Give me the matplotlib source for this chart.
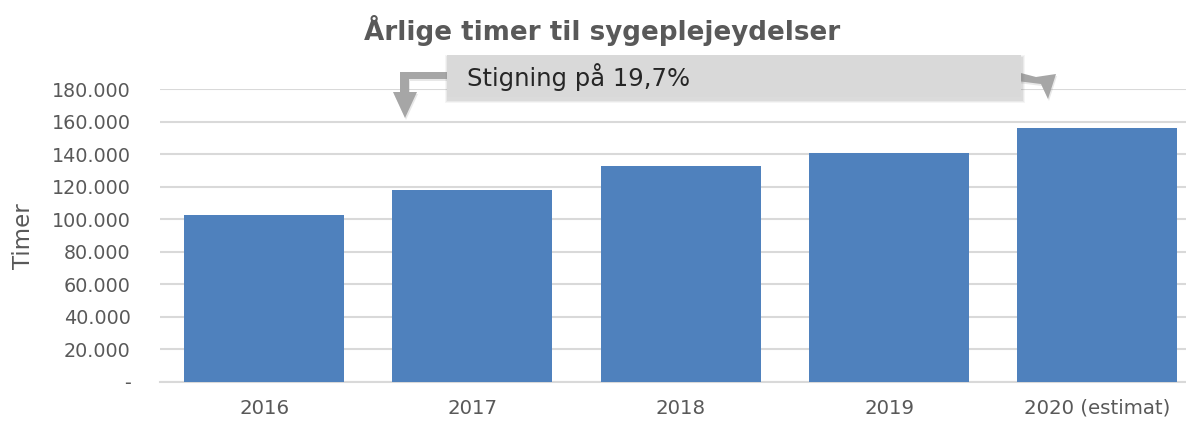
import matplotlib.pyplot as plt
from matplotlib.patches import Rectangle, Polygon
from matplotlib.ticker import FuncFormatter

# data
years = ["2016", "2017", "2018", "2019", "2020 (estimat)"]
hours = [103000, 117800, 132800, 141000, 156500]
yticks = [0, 20000, 40000, 60000, 80000, 100000, 120000, 140000, 160000, 180000]
note_text = "Stigning på 19,7%"

grey_txt = "#595959"
grid_col = "#D9D9D9"
bar_col = "#4F81BD"

plt.rcParams['font.family'] = ['DejaVu Sans']

W, H = 1186, 426
fig = plt.figure(figsize=(W / 100, H / 100), dpi=100)


def px(x, y):
    # pixel (from top-left) -> figure fraction
    return (x / W, (H - y) / H)


# axes placed in pixel terms
ax_left, ax_right, ax_bot, ax_top = 160, 1186, 382, 89.3
ax = fig.add_axes([ax_left / W, (H - ax_bot) / H, (ax_right - ax_left) / W, (ax_bot - ax_top) / H])

xpos = range(len(years))
ax.bar(xpos, hours, width=0.768, color=bar_col, zorder=3)

ax.set_ylim(0, 180000)
ax.set_xlim(-0.5, (ax_right - ax_left) / 208.3 - 0.5)
ax.set_yticks(yticks)
ax.yaxis.set_major_formatter(FuncFormatter(lambda v, p: "-" if v == 0 else f"{int(v):,}".replace(",", ".")))
ax.set_xticks(list(xpos))
ax.set_xticklabels(years)

ax.grid(axis="y", color=grid_col, lw=1.5, zorder=0)
for s in ["top", "right", "left"]:
    ax.spines[s].set_visible(False)
ax.spines["bottom"].set_color(grid_col)
ax.spines["bottom"].set_linewidth(1.5)
ax.tick_params(axis="y", length=0, colors=grey_txt, labelsize=13.8, pad=21)
ax.tick_params(axis="x", length=0, colors=grey_txt, labelsize=14.2, pad=12)

fig.text(24 / W, 0.5 * ((H - ax_bot) + (H - ax_top)) / H, "Timer", rotation=90,
         ha="center", va="center", fontsize=16.5, color=grey_txt)
fig.text(602 / W, (H - 30) / H, "Årlige timer til sygeplejeydelser", ha="center", va="center",
         fontsize=18.8, fontweight="bold", color=grey_txt)

# arrow shapes (elbow connectors) in pixel coords
left_arrow = [(447, 72), (400, 72), (400, 92), (393, 92), (405, 118), (417, 92), (409, 92), (409, 79), (447, 79)]
right_arrow = [(1017, 72), (1036, 77), (1056, 74), (1048, 99), (1041, 84), (1017, 81)]
arrow_col = "#A6A6A6"

# faint shadows under the arrows
for shape in (left_arrow, right_arrow):
    fig.patches.append(Polygon([px(x + 1, y + 2) for x, y in shape], closed=True, transform=fig.transFigure,
                               facecolor="#808080", edgecolor="none", alpha=0.18, zorder=3))
    fig.patches.append(Polygon([px(x, y) for x, y in shape], closed=True, transform=fig.transFigure,
                               facecolor=arrow_col, edgecolor="none", zorder=4))

# annotation box with a soft shadow
bx0, bx1, by0, by1 = 447, 1021, 55, 97
for k, a in enumerate([0.08, 0.10, 0.13]):
    grow = 3 - k
    sh = Rectangle(((bx0 + 1 - grow) / W, (H - by1 - 3 - grow) / H), (bx1 - bx0 + 2 * grow) / W,
                   (by1 - by0 + 2 * grow) / H, transform=fig.transFigure, facecolor="#808080",
                   alpha=a, edgecolor="none", zorder=4)
    fig.patches.append(sh)
box = Rectangle((bx0 / W, (H - by1) / H), (bx1 - bx0) / W, (by1 - by0) / H,
                transform=fig.transFigure, facecolor="#D9D9D9", edgecolor="none", zorder=5)
fig.patches.append(box)
fig.text(467 / W, (H - 77) / H, note_text, ha="left", va="center", fontsize=17.5, color="#262626", zorder=6)

fig.savefig("out.png", dpi=100)
